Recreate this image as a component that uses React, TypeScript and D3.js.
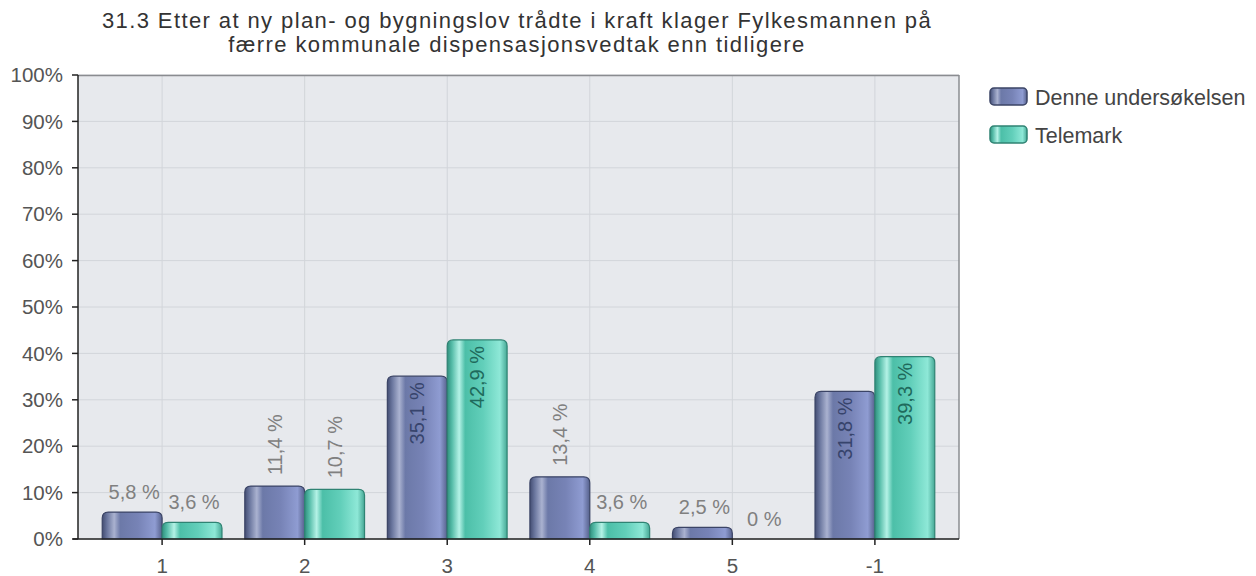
import * as d3 from 'd3'

const width = 1256
const height = 576
const marginTop = 75
const marginRight = 297
const marginBottom = 37
const marginLeft = 78

const titleLines = [
  '31.3 Etter at ny plan- og bygningslov trådte i kraft klager Fylkesmannen på',
  'færre kommunale dispensasjonsvedtak enn tidligere',
]
const categories = ['1', '2', '3', '4', '5', '-1']
const denne = [5.8, 11.4, 35.1, 13.4, 2.5, 31.8]
const telemark = [3.6, 10.7, 42.9, 3.6, 0, 39.3]
const seriesNames = ['Denne undersøkelsen', 'Telemark']
const yTicks = [0, 10, 20, 30, 40, 50, 60, 70, 80, 90, 100]

const font = '"Liberation Sans", Arial, sans-serif'

const palette = [
  {
    id: 'gBlue',
    stroke: '#3b4466',
    text: '#37446c',
    stops: [
      [0, '#434d72'],
      [0.08, '#6a769e'],
      [0.2, '#aab2d0'],
      [0.3, '#6c79a8'],
      [0.6, '#7783b6'],
      [0.88, '#8f9cd2'],
      [1, '#56618c'],
    ],
  },
  {
    id: 'gTeal',
    stroke: '#2f8373',
    text: '#1f6a5c',
    stops: [
      [0, '#2f8f7d'],
      [0.08, '#55bca8'],
      [0.2, '#b4f2e6'],
      [0.3, '#4cbfa8'],
      [0.6, '#62cfba'],
      [0.88, '#8ee8d7'],
      [1, '#46a895'],
    ],
  },
]

const fmt = (v: number) => (v === 0 ? '0 %' : `${String(v).replace('.', ',')} %`)

// bar with rounded top corners
function topRounded(x: number, y: number, w: number, h: number, r: number) {
  const rr = Math.min(r, h, w / 2)
  if (h <= 0) return ''
  return `M${x},${y + h}V${y + rr}Q${x},${y} ${x + rr},${y}H${x + w - rr}Q${x + w},${y} ${x + w},${y + rr}V${y + h}Z`
}

export default function App() {
  const x = d3
    .scalePoint<string>()
    .domain(categories)
    .range([marginLeft, width - marginRight])
    .padding(0.59)
  const y = d3.scaleLinear([0, 100], [height - marginBottom, marginTop])
  const barW = x.step() * 0.42

  const series = [denne, telemark]
  const x0 = marginLeft
  const x1 = width - marginRight
  const y0 = y(0)

  return (
    <svg
      width={width}
      height={height}
      style={{ position: 'absolute', left: 0, top: 0, background: '#fff' }}
    >
      <defs>
        {palette.map(p => (
          <linearGradient key={p.id} id={p.id} x1="0" x2="1" y1="0" y2="0">
            {p.stops.map(([o, c]) => (
              <stop key={o} offset={o as number} stopColor={c as string} />
            ))}
          </linearGradient>
        ))}
      </defs>

      {/* title */}
      <g fontFamily={font} fontSize={22} letterSpacing={1.4} fill="#333" textAnchor="middle">
        {titleLines.map((t, i) => (
          <text key={i} x={517} y={28 + i * 24}>
            {t}
          </text>
        ))}
      </g>

      {/* plot background */}
      <rect x={x0} y={marginTop} width={x1 - x0} height={y0 - marginTop} fill="#e7e9ed" />

      {/* grid */}
      <g stroke="#d2d5da" strokeWidth={1}>
        {yTicks.map(t => (
          <line key={t} x1={x0} x2={x1} y1={y(t)} y2={y(t)} />
        ))}
        {categories.map(c => (
          <line key={c} x1={x(c)} x2={x(c)} y1={marginTop} y2={y0} />
        ))}
      </g>
      <line x1={x0} x2={x1} y1={marginTop + 0.5} y2={marginTop + 0.5} stroke="#8a8c90" strokeWidth={1.5} />
      <line x1={x1} x2={x1} y1={marginTop} y2={y0} stroke="#8a8c90" strokeWidth={1.5} />

      {/* bars */}
      {series.map((vals, si) =>
        vals.map((v, i) => {
          const p = palette[si]
          const bx = (x(categories[i]) ?? 0) - barW + si * barW
          const by = y(v)
          return (
            <path
              key={`${si}-${i}`}
              d={topRounded(bx, by, barW, y0 - by, 6)}
              fill={`url(#${p.id})`}
              stroke={p.stroke}
              strokeWidth={1.2}
            />
          )
        })
      )}

      {/* value labels: small above, medium rotated above, large rotated inside */}
      <g fontFamily={font} fontSize={20}>
        {series.map((vals, si) =>
          vals.map((v, i) => {
            const p = palette[si]
            const cx = (x(categories[i]) ?? 0) - barW / 2 + si * barW
            const by = y(v)
            if (v < 10)
              return (
                <text key={`${si}-${i}`} x={cx + 2} y={by - 13} textAnchor="middle" fill="#808080">
                  {fmt(v)}
                </text>
              )
            if (v < 30)
              return (
                <text
                  key={`${si}-${i}`}
                  transform={`translate(${cx},${by - 11}) rotate(-90)`}
                  dy="0.35em"
                  textAnchor="start"
                  fill="#808080"
                >
                  {fmt(v)}
                </text>
              )
            return (
              <text
                key={`${si}-${i}`}
                transform={`translate(${cx},${by + 6}) rotate(-90)`}
                dy="0.35em"
                textAnchor="end"
                fill={p.text}
              >
                {fmt(v)}
              </text>
            )
          })
        )}
      </g>

      {/* y axis */}
      <g fontFamily={font} fontSize={20.5} fill="#555">
        {yTicks.map(t => (
          <g key={t}>
            <line x1={x0 - 6} x2={x0} y1={y(t)} y2={y(t)} stroke="#222" strokeWidth={1.5} />
            <text x={x0 - 15} y={y(t)} dy="0.35em" textAnchor="end">
              {`${t}%`}
            </text>
          </g>
        ))}
      </g>
      <line x1={x0} x2={x0} y1={marginTop} y2={y0} stroke="#222" strokeWidth={1.5} />

      {/* x axis */}
      <line x1={x0 - 5} x2={x1} y1={y0} y2={y0} stroke="#222" strokeWidth={1.5} />
      <g fontFamily={font} fontSize={20.5} fill="#555" textAnchor="middle">
        {categories.map(c => (
          <g key={c}>
            <line x1={x(c)} x2={x(c)} y1={y0} y2={y0 + 6} stroke="#222" strokeWidth={1.5} />
            <text x={x(c)} y={573}>
              {c}
            </text>
          </g>
        ))}
      </g>

      {/* legend */}
      <g fontFamily={font} fontSize={21.5} fill="#444">
        {seriesNames.map((n, i) => (
          <g key={n} transform={`translate(990,${88 + i * 38})`}>
            <rect x={0} y={0} width={37} height={17} rx={4} fill={`url(#${palette[i].id})`} stroke={palette[i].stroke} strokeWidth={1.5} />
            <text x={45} y={17}>
              {n}
            </text>
          </g>
        ))}
      </g>
    </svg>
  )
}
